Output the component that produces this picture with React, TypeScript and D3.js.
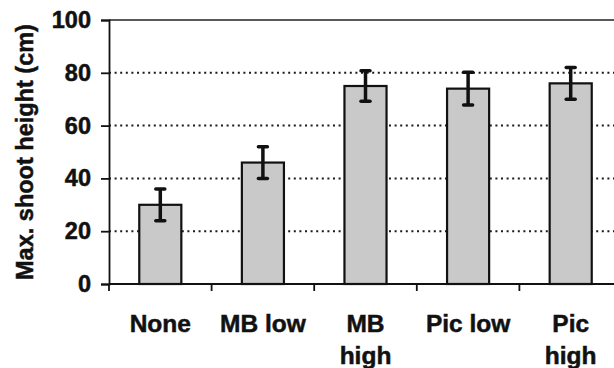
import { useEffect, useRef } from "react"
import * as d3 from "d3"

const categories = ["None", "MB low", "MB high", "Pic low", "Pic high"]
const labelLines = [["None"], ["MB low"], ["MB", "high"], ["Pic low"], ["Pic", "high"]]
const means = [30, 46, 75, 74, 76]
const errors = [6, 6, 5.8, 6.2, 6]
const yTicks = [0, 20, 40, 60, 80, 100]
const yTitle = "Max. shoot height (cm)"

export default function App() {

  const ref = useRef<SVGSVGElement | null>(null)

  useEffect(() => {

    const svg = d3.select(ref.current)
    svg.selectAll("*").remove()

    const width = 614
    const height = 368
    const margin = { top: 20, right: -8, bottom: 84, left: 109 }
    const font = "'Liberation Sans', Arial, sans-serif"

    svg.attr("width", width).attr("height", height)

    svg.append("rect").attr("width", width).attr("height", height).attr("fill", "#fff")

    const x = d3.scaleBand()
      .domain(categories)
      .range([margin.left, width - margin.right])
      .paddingInner(0.59)
      .paddingOuter(0.295)

    const y = d3.scaleLinear()
      .domain([0, 100])
      .range([height - margin.bottom, margin.top])

    // gridlines
    svg.append("g")
      .selectAll("line")
      .data(yTicks.filter(d => d > 0 && d < 100))
      .enter()
      .append("line")
      .attr("x1", margin.left)
      .attr("x2", width)
      .attr("y1", d => y(d))
      .attr("y2", d => y(d))
      .attr("stroke", "#1a1a1a")
      .attr("stroke-width", 2)
      .attr("stroke-dasharray", "2,3.6")

    // top border
    svg.append("line")
      .attr("x1", margin.left)
      .attr("x2", width)
      .attr("y1", y(100))
      .attr("y2", y(100))
      .attr("stroke", "#222")
      .attr("stroke-width", 1.6)

    // bars
    svg.append("g")
      .selectAll("rect")
      .data(means)
      .enter()
      .append("rect")
      .attr("x", (d, i) => x(categories[i])!)
      .attr("y", d => y(d))
      .attr("width", x.bandwidth())
      .attr("height", d => y(0) - y(d))
      .attr("fill", "#c9c9c9")
      .attr("stroke", "#111")
      .attr("stroke-width", 2.2)

    // error bars
    const eb = svg.append("g").attr("stroke", "#111")
    means.forEach((m, i) => {
      const cx = x(categories[i])! + x.bandwidth() / 2
      const e = errors[i]
      eb.append("line").attr("x1", cx).attr("x2", cx).attr("y1", y(m + e)).attr("y2", y(m - e)).attr("stroke-width", 3.5)
      eb.append("line").attr("x1", cx - 4.5).attr("x2", cx + 4.5).attr("y1", y(m + e)).attr("y2", y(m + e))
        .attr("stroke-width", 3.5).attr("stroke-linecap", "round")
      eb.append("line").attr("x1", cx - 4.5).attr("x2", cx + 4.5).attr("y1", y(m - e)).attr("y2", y(m - e))
        .attr("stroke-width", 3.5).attr("stroke-linecap", "round")
    })

    // Y Axis
    const yAxis = svg.append("g")
      .attr("transform", `translate(${margin.left},0)`)
      .call(d3.axisLeft(y).tickValues(yTicks).tickSize(8).tickPadding(10))

    yAxis.select(".domain").attr("stroke", "#111").attr("stroke-width", 1.8)
    yAxis.selectAll(".tick line").attr("stroke", "#111").attr("stroke-width", 1.8)
    yAxis.selectAll("text")
      .style("fill", "#111")
      .style("stroke", "#111")
      .style("stroke-width", "0.5px")
      .style("font-family", font)
      .style("font-weight", "bold")
      .style("font-size", "23.5px")

    // X Axis
    const xAxis = svg.append("g")
      .attr("transform", `translate(0,${y(0)})`)

    xAxis.append("line")
      .attr("x1", margin.left)
      .attr("x2", width)
      .attr("stroke", "#111")
      .attr("stroke-width", 1.8)

    const step = x.step()
    const bounds = categories.map(c => x(c)! - step * 0.295)
    xAxis.selectAll("line.sep")
      .data(bounds)
      .enter()
      .append("line")
      .attr("class", "sep")
      .attr("x1", d => d)
      .attr("x2", d => d)
      .attr("y1", 0)
      .attr("y2", 7)
      .attr("stroke", "#111")
      .attr("stroke-width", 1.8)

    const labels = svg.append("g")
      .style("font-family", font)
      .style("font-weight", "bold")
      .style("font-size", "24.5px")
      .attr("fill", "#111")
      .attr("stroke", "#111")
      .attr("stroke-width", 0.5)
      .attr("text-anchor", "middle")

    labelLines.forEach((lines, i) => {
      const cx = x(categories[i])! + x.bandwidth() / 2
      const t = labels.append("text")
        .attr("x", cx)
        .attr("y", 332)
      lines.forEach((l, j) => {
        t.append("tspan")
          .attr("x", cx)
          .attr("dy", j === 0 ? 0 : 32)
          .text(l)
      })
    })

    // Y title
    svg.append("text")
      .attr("transform", `translate(33,${(y(0) + y(100)) / 2}) rotate(-90)`)
      .attr("text-anchor", "middle")
      .style("font-family", font)
      .style("font-weight", "bold")
      .style("font-size", "23.5px")
      .attr("fill", "#111")
      .attr("stroke", "#111")
      .attr("stroke-width", 0.5)
      .text(yTitle)

  }, [])

  return <svg ref={ref} style={{ position: "absolute", left: 0, top: 0, display: "block" }} />
}
